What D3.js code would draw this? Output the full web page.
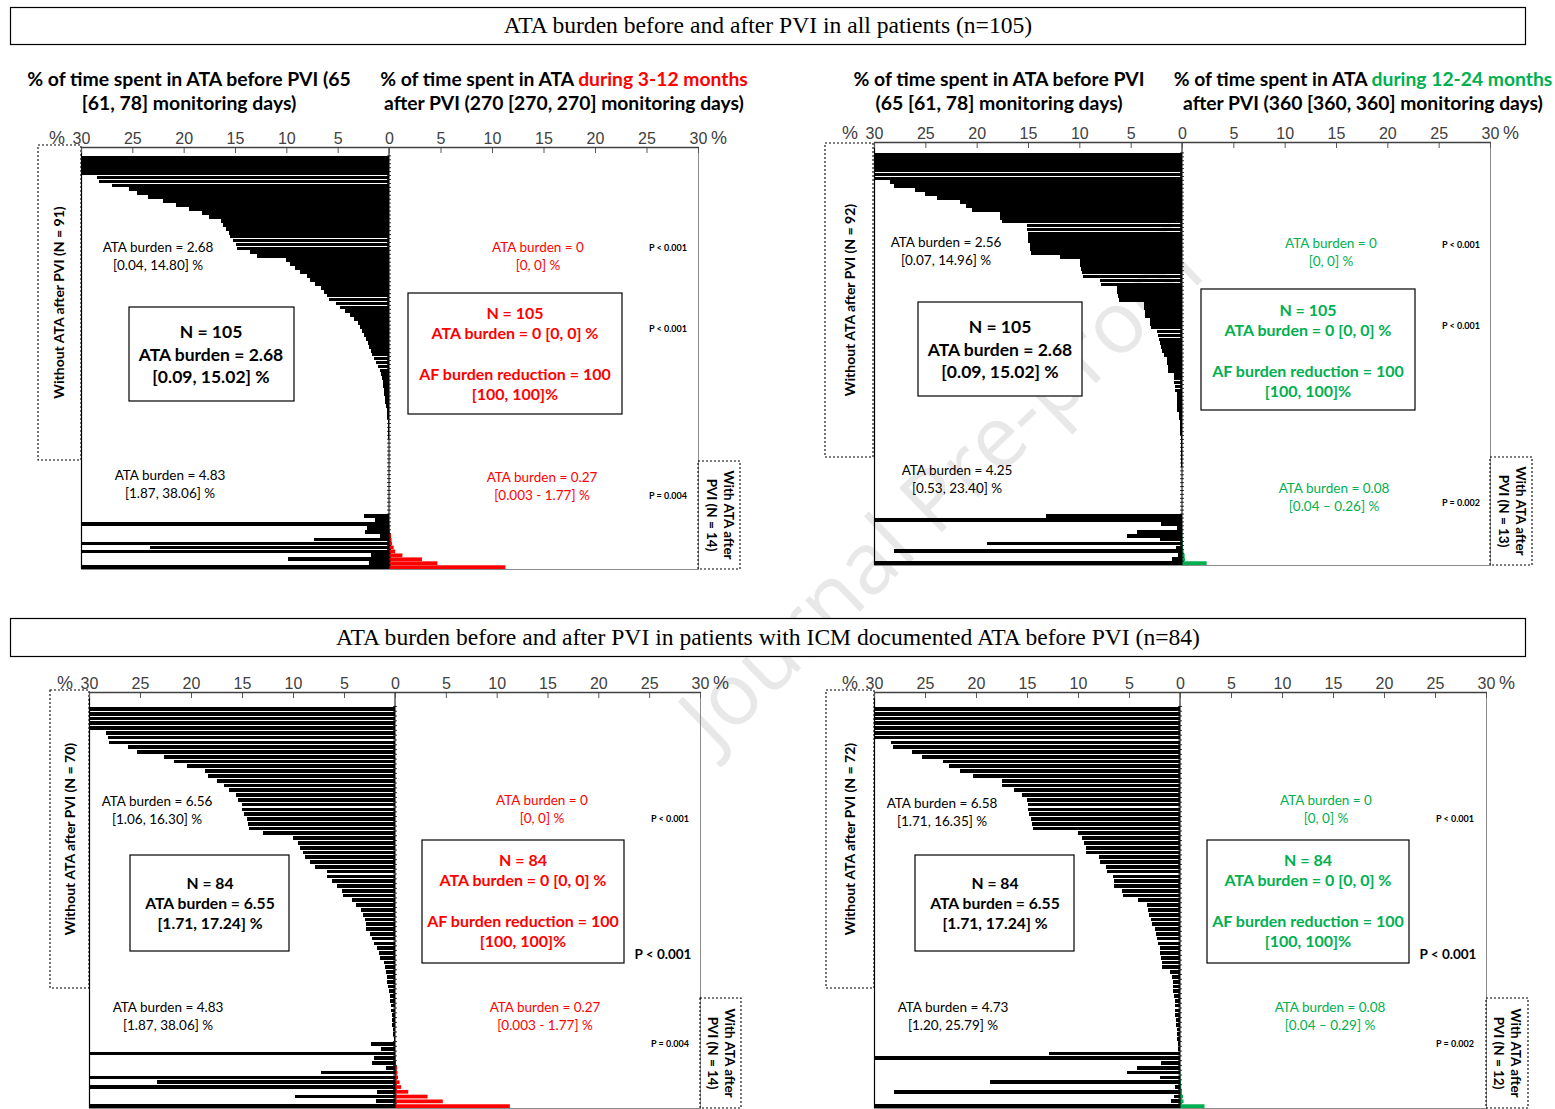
<!DOCTYPE html>
<html>
<head>
<meta charset="utf-8">
<script src="https://cdn.jsdelivr.net/npm/d3@7"></script>
<style>
  body { margin: 0; background: #fff; }
  svg text { font-family: Lato, "Open Sans", sans-serif; }
</style>
</head>
<body>
<svg id="chart" width="1555" height="1109"></svg>
<script>
// tick labels of the % axes
const tickValues = [0, 5, 10, 15, 20, 25, 30];

// % time in ATA before PVI, patients without ATA 3-12 months after PVI (all, n=91)
const before312AllNoAta = [95, 80, 62, 48, 36, 28.4, 28.2, 27.0, 25.3, 24.5, 23.5, 22.0, 20.7, 19.5, 18.2,
  17.5, 16.4, 16.2, 15.9, 15.6, 15.5, 15.2, 14.9, 14.8, 13.5, 12.9, 10.0, 9.6, 9.2, 8.7, 8.0, 7.7, 7.2, 6.6, 6.3,
  6.0, 5.8, 5.2, 4.8, 4.3, 3.8, 3.4, 3.0, 2.8, 2.6, 2.4, 2.2, 2.0, 1.9, 1.8, 1.7, 1.5, 1.3, 1.1, 0.9,
  0.8, 0.7, 0.6, 0.55, 0.5, 0.45, 0.4, 0.35, 0.3, 0.2, 0.18, 0.15, 0.12, 0.1, 0.08, 0.06, 0.05, 0.04, 0.04,
  0.03, 0.03, 0.02, 0.02, 0.02, 0.01, 0.01, 0.01, 0.01, 0, 0, 0, 0, 0, 0, 0, 0];
// patients with ATA 3-12 months after PVI (all, n=14): before / after
const before312AllWithAta = [2.4, 1.4, 45, 2.1, 2.3, 0.9, 7.3, 60, 23.3, 35, 1.8, 9.8, 1.9, 40];
const after312AllWithAta = [0.003, 0.01, 0.03, 0.06, 0.1, 0.2, 0.25, 0.3, 0.45, 0.6, 1.3, 3.2, 4.7, 11.3];

// 12-24 months, all patients (n=92 without / n=13 with)
const before1224AllNoAta = [95, 85, 72, 60, 48, 40, 33, 28.4, 28.1, 26.0, 25.0, 23.9, 21.6, 21.0, 20.5, 17.7, 17.7,
  17.5, 15.1, 15.1, 15.0, 15.0, 14.96, 14.8, 14.8, 14.7, 11.9, 9.9, 9.9, 9.8, 9.7, 9.6, 8.0, 7.9, 6.3, 6.3, 6.2,
  6.1, 3.7, 3.7, 3.6, 3.6, 3.1, 3.1, 3.0, 2.4, 2.3, 2.2, 2.1, 2.0, 1.9, 1.8, 1.5, 1.5, 1.4, 1.4, 0.8,
  0.8, 0.8, 0.7, 0.7, 0.5, 0.5, 0.5, 0.45, 0.45, 0.25, 0.25, 0.22, 0.2, 0.2, 0.15, 0.12, 0.1, 0.09, 0.08, 0.07,
  0.06, 0.05, 0.05, 0.04, 0.04, 0.03, 0.03, 0.02, 0.02, 0.01, 0.01, 0, 0, 0, 0];
const before1224AllWithAta = [13.2, 45, 2.0, 0.5, 4.4, 5.4, 2.1, 19.0, 0.6, 28.1, 0.4, 1.0, 38];
const after1224AllWithAta = [0, 0, 0, 0.01, 0.02, 0.04, 0.06, 0.08, 0.1, 0.15, 0.26, 0.3, 2.4];

// 3-12 months, ICM documented ATA before PVI (n=70 without / n=14 with)
const before312IcmNoAta = [90, 72, 55, 42, 34, 28.3, 28.1, 28.0, 26.2, 25.3, 22.6, 21.7, 20.4, 18.6, 18.3,
  17.5, 16.8, 16.3, 15.6, 15.4, 15.0, 15.0, 14.8, 14.5, 14.4, 14.3, 12.9, 10.0, 9.5, 9.3, 9.0, 8.8, 8.3, 7.8, 6.7,
  6.7, 6.2, 5.7, 5.2, 5.1, 4.2, 3.8, 3.3, 3.1, 2.9, 2.8, 2.8, 2.5, 2.3, 2.1, 1.8, 1.6, 1.5, 1.1, 1.0,
  0.9, 0.8, 0.75, 0.65, 0.55, 0.5, 0.45, 0.4, 0.35, 0.3, 0.28, 0.25, 0.2, 0.15, 0.1];
const before312IcmWithAta = [2.4, 1.4, 45, 2.1, 2.3, 0.9, 7.3, 60, 23.3, 35, 1.8, 9.8, 1.9, 40];
const after312IcmWithAta = [0.003, 0.01, 0.03, 0.06, 0.1, 0.2, 0.25, 0.3, 0.45, 0.6, 1.3, 3.2, 4.7, 11.3];

// 12-24 months, ICM documented ATA before PVI (n=72 without / n=12 with)
const before1224IcmNoAta = [95, 85, 70, 58, 46, 38, 32, 28.3, 28.1, 26.3, 25.3, 23.2, 22.6, 21.6, 20.3, 17.5, 17.5,
  16.3, 15.5, 15.0, 14.9, 14.9, 14.8, 14.6, 14.5, 14.4, 10.0, 9.6, 9.4, 9.2, 9.2, 7.9, 7.8, 7.3, 7.2, 6.6, 6.5,
  6.5, 5.7, 5.6, 4.1, 3.2, 3.1, 3.0, 2.8, 2.7, 2.5, 2.35, 2.3, 2.2, 2.0, 2.0, 1.9, 1.8, 1.8, 1.0, 0.8,
  0.7, 0.7, 0.65, 0.6, 0.5, 0.5, 0.45, 0.45, 0.4, 0.35, 0.3, 0.3, 0.25, 0.2, 0.15];
const before1224IcmWithAta = [12.8, 45, 1.9, 4.2, 5.2, 2.0, 18.6, 0.5, 28.0, 0.6, 0.9, 33];
const after1224IcmWithAta = [0, 0, 0.01, 0.02, 0.04, 0.06, 0.1, 0.12, 0.2, 0.29, 0.35, 2.4];

const RED = '#ff0000', GREEN = '#00b050';

const svg = d3.select('#chart');

// faint watermark, behind the marks
svg.append('text')
  .attr('transform', 'translate(942,490) rotate(-44)')
  .attr('text-anchor', 'middle')
  .attr('dy', '0.35em')
  .style('font-family', '"Open Sans", sans-serif')
  .style('font-size', '86px')
  .attr('fill', '#e8e8e8')
  .text('Journal Pre-proof');

// section headers
const headers = [
  { y: 7, h: 37, text: 'ATA burden before and after PVI in all patients (n=105)' },
  { y: 618, h: 38, text: 'ATA burden before and after PVI in patients with ICM documented ATA before PVI (n=84)' }
];
headers.forEach(hd => {
  svg.append('rect').attr('x', 10.5).attr('y', hd.y + 0.5).attr('width', 1515).attr('height', hd.h)
    .attr('fill', '#fff').attr('stroke', '#000').attr('stroke-width', 1.2);
  svg.append('text').attr('x', 768).attr('y', hd.y + hd.h / 2 + 7.5)
    .attr('text-anchor', 'middle')
    .style('font-family', '"Liberation Serif", "DejaVu Serif", serif')
    .style('font-size', '23.6px')
    .text(hd.text);
});

function lines(g, x, y0, rows, opt) {
  const t = g.append('text').attr('text-anchor', 'middle')
    .style('font-size', opt.size + 'px')
    .style('font-weight', opt.bold ? 700 : 400)
    .attr('fill', opt.color || '#000');
  rows.forEach((r, i) => {
    t.append('tspan').attr('x', x).attr('y', y0 + i * opt.lh).text(r);
  });
  return t;
}

function dottedBox(g, b, rows, rot, cx, cy, size) {
  g.append('rect').attr('x', b[0]).attr('y', b[1]).attr('width', b[2] - b[0]).attr('height', b[3] - b[1])
    .attr('fill', 'none').attr('stroke', '#000').attr('stroke-width', 1.1).attr('stroke-dasharray', '2,2');
  const t = g.append('text').attr('text-anchor', 'middle')
    .attr('transform', `translate(${cx},${cy}) rotate(${rot})`)
    .style('font-size', size + 'px').style('font-weight', 700);
  rows.forEach((r, i) => t.append('tspan').attr('x', 0).attr('y', i * 17).text(r));
}

const panels = [
  {
    left: 81, zero: 389, right: 698, axisY: 147, barTop: 156, bottom: 569, pad: 0.05,
    noAta: before312AllNoAta, withAta: before312AllWithAta, after: after312AllWithAta, color: RED,
    titleL: { x: 189, y: 86, rows: ['% of time spent in ATA before PVI  (65', '[61, 78] monitoring days)'] },
    titleR: { x: 564, y: 86, pre: '% of time spent in ATA ', colored: 'during 3-12 months', row2: 'after PVI (270 [270, 270] monitoring days)' },
    leftBox: [38, 145, 81, 460], leftLabel: 'Without ATA after PVI (N = 91)', leftLabelX: 64,
    rightBox: [698, 461, 740, 569], rightLabel: ['With ATA after', 'PVI (N = 14)'], rightLabelX: 724,
    noteTop: { x: 158, y: 252, rows: ['ATA burden = 2.68', '[0.04, 14.80] %'] },
    noteBottom: { x: 170, y: 480, rows: ['ATA burden = 4.83', '[1.87, 38.06] %'] },
    box: { r: [129, 307, 294, 401], x: 211, y: 338, lh: 22.5, size: 17.5, rows: ['N = 105', 'ATA burden = 2.68', '[0.09, 15.02] %'] },
    cNoteTop: { x: 538, y: 252, rows: ['ATA burden = 0', '[0, 0] %'] },
    cNoteBottom: { x: 542, y: 482, rows: ['ATA burden = 0.27', '[0.003 - 1.77] %'] },
    cBox: { r: [408, 293, 622, 414], x: 515, y: 319, size: 16, rows: ['N = 105', 'ATA burden = 0 [0, 0] %', '', 'AF burden reduction = 100', '[100, 100]%'] },
    pSmall: [{ x: 668, y: 251, t: 'P < 0.001' }, { x: 668, y: 332, t: 'P < 0.001' }, { x: 668, y: 499, t: 'P = 0.004' }],
    pBig: null
  },
  {
    left: 874, zero: 1182, right: 1490, axisY: 142, barTop: 153, bottom: 565, pad: 0.05,
    noAta: before1224AllNoAta, withAta: before1224AllWithAta, after: after1224AllWithAta, color: GREEN,
    titleL: { x: 999, y: 86, rows: ['% of time spent in ATA before PVI', '(65 [61, 78] monitoring days)'] },
    titleR: { x: 1363, y: 86, pre: '% of time spent in ATA ', colored: 'during 12-24 months', row2: 'after PVI (360 [360, 360] monitoring days)' },
    leftBox: [825, 143, 873, 457], leftLabel: 'Without ATA after PVI (N = 92)', leftLabelX: 855,
    rightBox: [1490, 457, 1532, 565], rightLabel: ['With ATA after', 'PVI (N = 13)'], rightLabelX: 1516,
    noteTop: { x: 946, y: 247, rows: ['ATA burden = 2.56', '[0.07, 14.96] %'] },
    noteBottom: { x: 957, y: 475, rows: ['ATA burden = 4.25', '[0.53, 23.40] %'] },
    box: { r: [918, 302, 1082, 396], x: 1000, y: 333, lh: 22.5, size: 17.5, rows: ['N = 105', 'ATA burden = 2.68', '[0.09, 15.02] %'] },
    cNoteTop: { x: 1331, y: 248, rows: ['ATA burden = 0', '[0, 0] %'] },
    cNoteBottom: { x: 1334, y: 493, rows: ['ATA burden = 0.08', '[0.04 \u2013 0.26] %'] },
    cBox: { r: [1201, 289, 1415, 410], x: 1308, y: 316, size: 16, rows: ['N = 105', 'ATA burden = 0 [0, 0] %', '', 'AF burden reduction = 100', '[100, 100]%'] },
    pSmall: [{ x: 1461, y: 248, t: 'P < 0.001' }, { x: 1461, y: 329, t: 'P < 0.001' }, { x: 1461, y: 506, t: 'P = 0.002' }],
    pBig: null
  },
  {
    left: 89, zero: 395, right: 700, axisY: 692, barTop: 707, bottom: 1108, pad: 0.22,
    noAta: before312IcmNoAta, withAta: before312IcmWithAta, after: after312IcmWithAta, color: RED,
    titleL: null, titleR: null,
    leftBox: [50, 690, 89, 988], leftLabel: 'Without ATA after PVI (N = 70)', leftLabelX: 75,
    rightBox: [700, 998, 741, 1108], rightLabel: ['With ATA after', 'PVI (N = 14)'], rightLabelX: 725,
    noteTop: { x: 157, y: 806, rows: ['ATA burden = 6.56', '[1.06, 16.30] %'] },
    noteBottom: { x: 168, y: 1012, rows: ['ATA burden = 4.83', '[1.87, 38.06] %'] },
    box: { r: [130, 855, 289, 951], x: 210, y: 889, lh: 20, size: 15.7, rows: ['N = 84', 'ATA burden = 6.55', '[1.71, 17.24] %'] },
    cNoteTop: { x: 542, y: 805, rows: ['ATA burden = 0', '[0, 0] %'] },
    cNoteBottom: { x: 545, y: 1012, rows: ['ATA burden = 0.27', '[0.003 - 1.77] %'] },
    cBox: { r: [422, 840, 624, 963], x: 523, y: 866, size: 16, rows: ['N = 84', 'ATA burden = 0 [0, 0] %', '', 'AF burden reduction = 100', '[100, 100]%'] },
    pSmall: [{ x: 670, y: 822, t: 'P < 0.001' }, { x: 670, y: 1047, t: 'P = 0.004' }],
    pBig: { x: 663, y: 959, t: 'P < 0.001' }
  },
  {
    left: 874, zero: 1180, right: 1486, axisY: 692, barTop: 707, bottom: 1108, pad: 0.22,
    noAta: before1224IcmNoAta, withAta: before1224IcmWithAta, after: after1224IcmWithAta, color: GREEN,
    titleL: null, titleR: null,
    leftBox: [826, 690, 874, 988], leftLabel: 'Without ATA after PVI (N = 72)', leftLabelX: 855,
    rightBox: [1486, 998, 1528, 1108], rightLabel: ['With ATA after', 'PVI (N = 12)'], rightLabelX: 1511,
    noteTop: { x: 942, y: 808, rows: ['ATA burden = 6.58', '[1.71, 16.35] %'] },
    noteBottom: { x: 953, y: 1012, rows: ['ATA burden = 4.73', '[1.20, 25.79] %'] },
    box: { r: [915, 855, 1074, 951], x: 995, y: 889, lh: 20, size: 15.7, rows: ['N = 84', 'ATA burden = 6.55', '[1.71, 17.24] %'] },
    cNoteTop: { x: 1326, y: 805, rows: ['ATA burden = 0', '[0, 0] %'] },
    cNoteBottom: { x: 1330, y: 1012, rows: ['ATA burden = 0.08', '[0.04 \u2013 0.29] %'] },
    cBox: { r: [1207, 840, 1409, 963], x: 1308, y: 866, size: 16, rows: ['N = 84', 'ATA burden = 0 [0, 0] %', '', 'AF burden reduction = 100', '[100, 100]%'] },
    pSmall: [{ x: 1455, y: 822, t: 'P < 0.001' }, { x: 1455, y: 1047, t: 'P = 0.002' }],
    pBig: { x: 1448, y: 959, t: 'P < 0.001' }
  }
];

function drawPanel(p) {
  const g = svg.append('g');
  const before = p.noAta.concat(p.withAta);
  const after = p.noAta.map(() => 0).concat(p.after);
  const n = before.length;

  const y = d3.scaleBand().domain(d3.range(n)).range([p.barTop, p.bottom]).paddingInner(p.pad).paddingOuter(0);
  const xL = d3.scaleLinear().domain([0, 30]).range([p.zero, p.left]).clamp(true);
  const xR = d3.scaleLinear().domain([0, 30]).range([p.zero, p.right]).clamp(true);

  // titles
  if (p.titleL) {
    lines(g, p.titleL.x, p.titleL.y, p.titleL.rows, { size: 19.4, bold: true, lh: 24 });
    const t = g.append('text').attr('text-anchor', 'middle').style('font-size', '19.3px').style('font-weight', 700);
    const r1 = t.append('tspan').attr('x', p.titleR.x).attr('y', p.titleR.y);
    r1.append('tspan').text(p.titleR.pre);
    r1.append('tspan').attr('fill', p.color).text(p.titleR.colored);
    t.append('tspan').attr('x', p.titleR.x).attr('y', p.titleR.y + 24).text(p.titleR.row2);
  }

  // plot frame
  g.append('rect').attr('x', p.left + 0.5).attr('y', p.axisY + 0.5)
    .attr('width', p.right - p.left).attr('height', p.bottom - p.axisY)
    .attr('fill', 'none').attr('stroke', '#8c8c8c').attr('stroke-width', 1);

  // side boxes
  dottedBox(g, p.leftBox, [p.leftLabel], -90, p.leftLabelX, (p.leftBox[1] + p.leftBox[3]) / 2, 14);
  dottedBox(g, p.rightBox, p.rightLabel, 90, p.rightLabelX, (p.rightBox[1] + p.rightBox[3]) / 2, 13.5);
  g.append('line').attr('x1', p.left + 0.5).attr('x2', p.left + 0.5).attr('y1', p.axisY).attr('y2', p.bottom)
    .attr('stroke', '#000').attr('stroke-width', 1.2);

  // before-PVI bars (left, black)
  g.append('g').selectAll('rect').data(before).join('rect')
    .attr('x', d => xL(d))
    .attr('y', (d, i) => y(i))
    .attr('width', d => p.zero - xL(d))
    .attr('height', y.bandwidth())
    .attr('fill', '#000')
    .attr('shape-rendering', 'crispEdges');

  // after-PVI bars (right, coloured)
  g.append('g').selectAll('rect')
    .data(after.map((v, i) => ({ v, i })).filter(d => d.v > 0))
    .join('rect')
    .attr('x', p.zero)
    .attr('y', d => y(d.i))
    .attr('width', d => xR(d.v) - p.zero)
    .attr('height', y.bandwidth())
    .attr('fill', p.color);

  // category axis on the zero line
  g.append('line').attr('x1', p.zero).attr('x2', p.zero).attr('y1', p.axisY).attr('y2', p.bottom)
    .attr('stroke', '#000').attr('stroke-width', 1);
  g.append('g').selectAll('line').data(d3.range(n)).join('line')
    .attr('x1', p.zero - 2).attr('x2', p.zero + 2)
    .attr('y1', i => y(i) - y.step() * p.pad / 2).attr('y2', i => y(i) - y.step() * p.pad / 2)
    .attr('stroke', '#000').attr('stroke-width', 0.8);

  // top % axes
  const axL = d3.axisTop(xL).tickValues(tickValues.filter(v => v > 0)).tickSizeInner(-6).tickSizeOuter(0).tickPadding(3);
  const axR = d3.axisTop(xR).tickValues(tickValues).tickSizeInner(-6).tickSizeOuter(0).tickPadding(3);
  [axL, axR].forEach(ax => {
    const a = g.append('g').attr('transform', `translate(0,${p.axisY})`).call(ax);
    a.select('.domain').remove();
    a.selectAll('.tick line').attr('stroke', '#595959');
    a.selectAll('.tick text').attr('fill', '#404040')
      .style('font-family', '"Liberation Sans", Arial, sans-serif').style('font-size', '16px');
  });
  g.append('line').attr('x1', p.left).attr('x2', p.right + 1).attr('y1', p.axisY + 0.5).attr('y2', p.axisY + 0.5)
    .attr('stroke', '#404040').attr('stroke-width', 1.5);
  [[p.left - 24, '%'], [p.right + 21, '%']].forEach(([x, s]) => {
    g.append('text').attr('x', x).attr('y', p.axisY - 3).attr('text-anchor', 'middle')
      .style('font-family', '"Liberation Sans", Arial, sans-serif').style('font-size', '18px')
      .attr('fill', '#404040').text(s);
  });

  // annotations, before side
  lines(g, p.noteTop.x, p.noteTop.y, p.noteTop.rows, { size: 13.5, lh: 18 });
  lines(g, p.noteBottom.x, p.noteBottom.y, p.noteBottom.rows, { size: 13.5, lh: 18 });
  const b = p.box.r;
  g.append('rect').attr('x', b[0]).attr('y', b[1]).attr('width', b[2] - b[0]).attr('height', b[3] - b[1])
    .attr('fill', '#fff').attr('stroke', '#000').attr('stroke-width', 1.2);
  lines(g, p.box.x, p.box.y, p.box.rows, { size: p.box.size, bold: true, lh: p.box.lh });

  // annotations, after side
  lines(g, p.cNoteTop.x, p.cNoteTop.y, p.cNoteTop.rows, { size: 13.5, lh: 18, color: p.color });
  lines(g, p.cNoteBottom.x, p.cNoteBottom.y, p.cNoteBottom.rows, { size: 13.5, lh: 18, color: p.color });
  const c = p.cBox.r;
  g.append('rect').attr('x', c[0]).attr('y', c[1]).attr('width', c[2] - c[0]).attr('height', c[3] - c[1])
    .attr('fill', '#fff').attr('stroke', '#000').attr('stroke-width', 1.2);
  lines(g, p.cBox.x, p.cBox.y, p.cBox.rows, { size: p.cBox.size, bold: true, lh: 20.3, color: p.color });

  // p-values
  p.pSmall.forEach(s => {
    g.append('text').attr('x', s.x).attr('y', s.y).attr('text-anchor', 'middle')
      .style('font-size', '9px').style('font-weight', 700).text(s.t);
  });
  if (p.pBig) {
    g.append('text').attr('x', p.pBig.x).attr('y', p.pBig.y).attr('text-anchor', 'middle')
      .style('font-size', '13.5px').style('font-weight', 700).text(p.pBig.t);
  }
}

panels.forEach(drawPanel);
</script>
</body>
</html>
